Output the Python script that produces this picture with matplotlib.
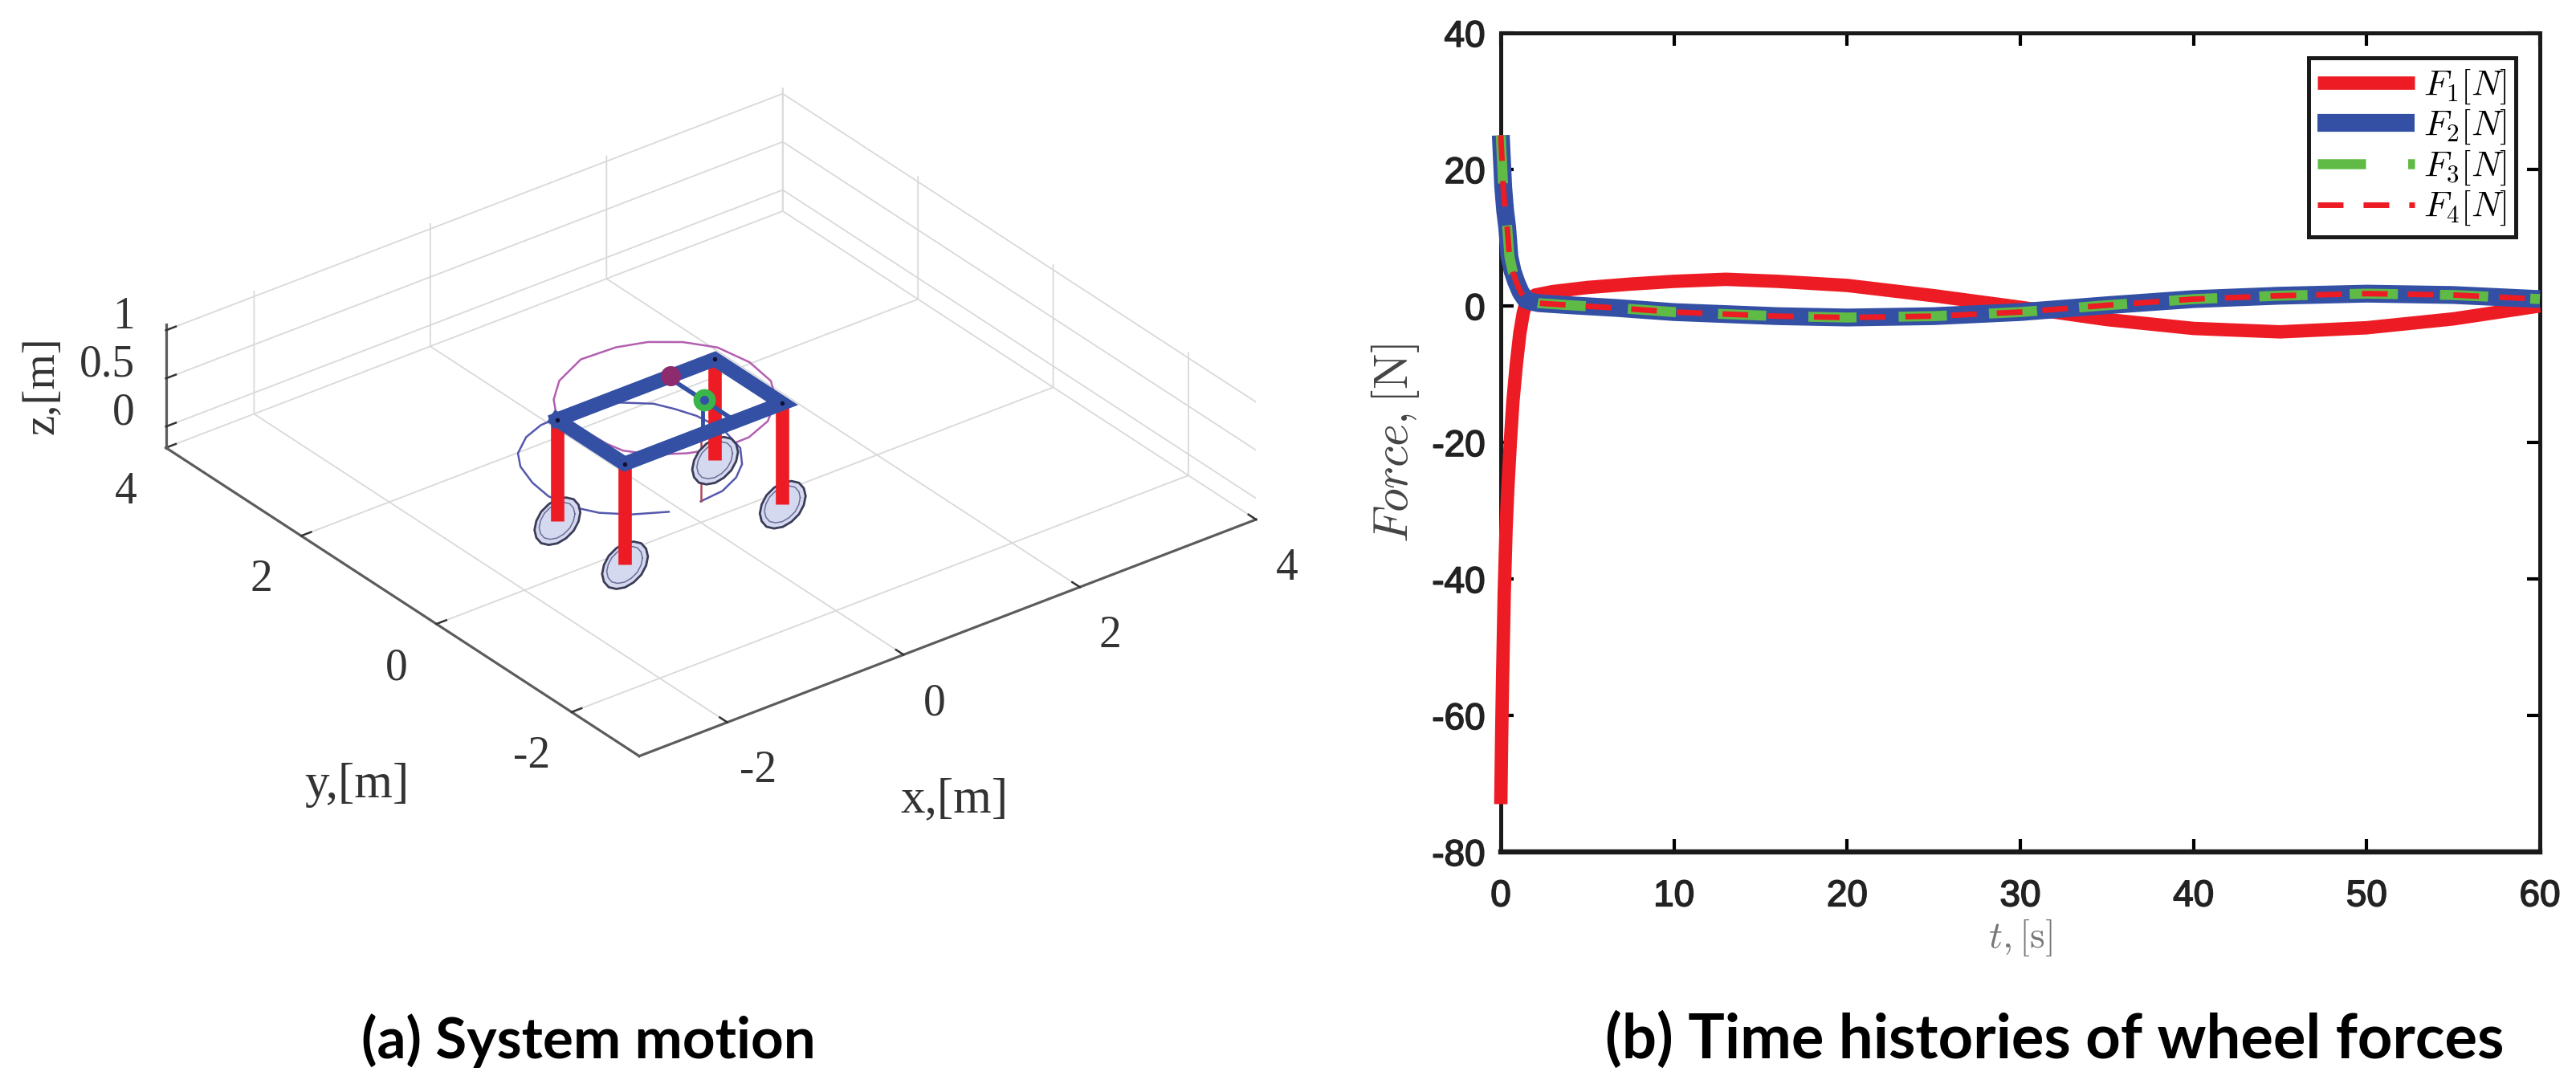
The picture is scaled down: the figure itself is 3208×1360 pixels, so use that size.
# -*- coding: utf-8 -*-
import matplotlib
matplotlib.use('Agg')
import matplotlib.pyplot as plt
import matplotlib.patheffects as pe
from mpl_toolkits.mplot3d.art3d import Poly3DCollection

W, H = 3208, 1360
plt.rcParams['mathtext.fontset'] = 'cm'
plt.rcParams['axes.unicode_minus'] = False

# ---- datos panel (a): trayectorias y robot
purple_x = [-1.186, -1.043, -0.797, -0.408, -0.026, 0.262, 0.510, 0.699, 0.766, 0.713,
            0.543, 0.250, -0.061, -0.371, -0.677, -0.941, -1.107, -1.148, -1.186]
purple_y = [0.591, 0.816, 1.054, 1.242, 1.222, 1.122, 0.930, 0.663, 0.277, -0.108,
            -0.406, -0.666, -0.792, -0.798, -0.683, -0.511, -0.292, -0.109, 0.591]
orbit_x = [-0.343, -0.640, -0.851, -0.978, -1.032, -0.998, -0.907, -0.778, -0.543, -0.305, -0.161,
           0.230, 0.462, 0.734, 0.828, 0.907, 0.950, 0.867, 0.703, 0.514, 0.270, 0.0]
orbit_y = [0.026, 0.194, 0.393, 0.625, 0.909, 1.188, 1.485, 1.690, 1.875, 1.966, 1.975,
           1.948, 1.893, 1.653, 1.460, 1.246, 0.909, 0.545, 0.305, 0.147, 0.030, 0.0]
wheel_x = [-1.24, -1.24, 0.55, 0.55]
wheel_y = [0.51, -0.49, -0.49, 0.51]
frame_order = [0, 1, 2, 3, 0]
frame_z = 1.05
cross_x = [0.02, 0.02]
cross_y = [0.51, -0.49]
wheel_u = [1, 0.92, 0.71, 0.38, 0, -0.38, -0.71, -0.92, -1, -0.92, -0.71, -0.38, 0, 0.38, 0.71, 0.92, 1]
wheel_v = [0, 0.38, 0.71, 0.92, 1, 0.92, 0.71, 0.38, 0, -0.38, -0.71, -0.92, -1, -0.92, -0.71, -0.38, 0]
xyticks = [-2, 0, 2, 4]
zticks = [0, 0.5, 1]
ztick_labels = ['0', '0.5', '1']

# ---- datos panel (b): fuerzas en las ruedas
t1 = [0, 0.05, 0.1, 0.2, 0.3, 0.4, 0.55, 0.7, 0.9, 1.1, 1.3, 1.5, 2, 3, 5, 7.5, 10, 13, 16, 20, 25, 30, 35, 40, 45, 50, 55, 60]
f1 = [-73, -63, -55, -42, -33, -27, -20, -14, -8.5, -4, -1, 0.8, 1.6, 2.1, 2.7, 3.2, 3.6, 3.9, 3.6, 3.0, 1.5, -0.2, -2, -3.3, -3.8, -3.2, -1.9, 0]
t2 = [0, 0.14, 0.25, 0.37, 0.5, 0.68, 0.88, 1.15, 1.44, 1.8, 2.2, 4, 6.7, 10, 13, 16, 20, 25, 30, 35, 40, 45, 50, 55, 60]
f2 = [25, 17.4, 14, 11.5, 7.2, 5.1, 3.6, 2, 0.9, 0.6, 0.4, 0.1, -0.3, -0.9, -1.2, -1.5, -1.7, -1.5, -0.9, 0.1, 1, 1.5, 1.8, 1.6, 1]
f3 = list(f2)
f4 = list(f2)
t_ticks = [0, 10, 20, 30, 40, 50, 60]
f_ticks = [-80, -60, -40, -20, 0, 20, 40]

RED = '#ed1c24'
BLUE = '#3450a4'
GREEN = '#5fbb46'
SERIF = 'Liberation Serif'

fig = plt.figure(figsize=(W / 100, H / 100), dpi=100, facecolor='white')

# ---- panel (a)
S = 1031
ax = fig.add_axes([356 / W, 305 / H, S / W, S / H], projection='3d', computed_zorder=False)
ax.patch.set_alpha(0)
ax.set_proj_type('ortho')
ax.view_init(elev=30, azim=-127.5)
ax.set_xlim(-3, 4, view_margin=0)
ax.set_ylim(-3, 4, view_margin=0)
ax.set_zlim(-0.22, 1.06, view_margin=0)
ax.set_box_aspect((1, 1, 0.183), zoom=1.3)
ax.set_xticks(xyticks)
ax.set_yticks(xyticks)
ax.set_zticks(zticks)
ax.set_zticklabels(ztick_labels)
for a in (ax.xaxis, ax.yaxis, ax.zaxis):
    a.set_pane_color((1, 1, 1, 0))
    a.pane.set_edgecolor('none')
    a.line.set_color('#5c5c5c')
    a.line.set_linewidth(2.3)
    a._axinfo['grid'].update(color='#d9d9d9', linewidth=1.3)
    a._axinfo['tick'].update(inward_factor=0.0, outward_factor=0.2, linewidth={True: 1.8, False: 1.0}, color='#444444')
    a.set_rotate_label(False)
ax.tick_params(labelsize=40, colors='#333333', pad=17, labelfontfamily=SERIF)
ax.tick_params(axis='z', pad=3)
ax.zaxis.set_ticks_position('upper')
# las etiquetas de z quedan por encima de su marca
for tick in ax.zaxis.get_major_ticks():
    tick.label1.set_va('baseline')
    tick.label1.set_ha('right')

ax.plot(purple_x, purple_y, [frame_z] * len(purple_x), color='#b35fb0', lw=1.8, zorder=2)
ax.plot(orbit_x, orbit_y, [0] * len(orbit_x), color='#5558ad', lw=1.8, zorder=3)
ax.plot([0, 0], [0, 0], [0, 0.7], color='#b04a5a', lw=1.8, zorder=3)
ax.plot([0.02, 0.02], [0, 0], [0.7, frame_z], color=BLUE, lw=3.5, zorder=7)

rx, rz = 0.26, 0.23
for wx, wy in zip(wheel_x, wheel_y):
    px = [wx + rx * u for u in wheel_u]
    pz = [rz * v for v in wheel_v]
    disc = Poly3DCollection([list(zip(px, [wy] * len(px), pz))], facecolor='#d5d9f0', edgecolor='#3a3c58', linewidth=2.0)
    disc.set_zorder(4)
    ax.add_collection3d(disc)
    ax.plot([wx + 0.78 * rx * u for u in wheel_u], [wy] * len(wheel_u), [0.78 * rz * v for v in wheel_v],
            color='#6a6d95', lw=1.1, zorder=4)
    ax.plot([wx, wx], [wy, wy], [0, frame_z], color=RED, lw=12, solid_capstyle='butt', zorder=5)

fx = [wheel_x[i] for i in frame_order]
fy = [wheel_y[i] for i in frame_order]
ax.plot(fx, fy, [frame_z] * 5, color=BLUE, lw=13, solid_capstyle='projecting', solid_joinstyle='miter', zorder=6)
ax.plot(fx[:4], fy[:4], [frame_z] * 4, ls='none', marker='o', ms=3, color='#111133', zorder=6)
ax.plot(cross_x, cross_y, [frame_z, frame_z], color=BLUE, lw=4, zorder=6)
ax.plot([0.05], [0.51], [frame_z], marker='o', ms=17, color='#8e2a6e', ls='none', zorder=7)
ax.plot([0.03], [-0.01], [frame_z], marker='o', ms=19, color='#39b54a', ls='none', zorder=7)
ax.plot([0.03], [-0.01], [frame_z], marker='o', ms=7, color=BLUE, ls='none', zorder=8)

fig.text(444 / W, 1 - 978 / H, 'y,[m]', fontsize=44, family=SERIF, color='#333333', ha='center', va='center')
fig.text(1189 / W, 1 - 996 / H, 'x,[m]', fontsize=44, family=SERIF, color='#333333', ha='center', va='center')
fig.text(53 / W, 1 - 480 / H, 'z,[m]', fontsize=41, family=SERIF, color='#333333', ha='center', va='center', rotation=90)

# ---- panel (b)
bx = fig.add_axes([1869 / W, 1 - 1061 / H, (3163 - 1869) / W, (1061 - 41) / H])
bx.plot(t1, f1, color=RED, lw=12, solid_capstyle='butt', clip_on=False, zorder=3, label=r'$F_1[N]$')
bx.plot(t2, f2, color=BLUE, lw=16, solid_capstyle='butt', clip_on=False, zorder=4, label=r'$F_2[N]$')
bx.plot(t2, f3, color=GREEN, lw=9, ls=(0, (4.8, 4.2)), dash_capstyle='butt', clip_on=False, zorder=5, label=r'$F_3[N]$')
bx.plot(t2, f4, color=RED, lw=5, ls=(0, (4.6, 3.6)), dash_capstyle='butt', clip_on=False, zorder=6, label=r'$F_4[N]$')
bx.set_xlim(0, 60)
bx.set_ylim(-80, 40)
bx.set_xticks(t_ticks)
bx.set_yticks(f_ticks)
bx.tick_params(direction='in', top=True, right=True, length=11.5, width=3, labelsize=33, pad=14)
bx.tick_params(axis='x', pad=24)
for lab in bx.get_xticklabels() + bx.get_yticklabels():
    lab.set_family('Liberation Sans')
    lab.set_color('#222222')
    lab.set_path_effects([pe.withStroke(linewidth=1.2, foreground='#222222')])
for s in bx.spines.values():
    s.set_linewidth(3.6)
    s.set_color('#1a1a1a')
bx.spines['bottom'].set_linewidth(4.6)
leg = bx.legend(loc='upper left', bbox_to_anchor=(0.7774, 0.9696), borderaxespad=0, fontsize=32, fancybox=False,
                framealpha=1, edgecolor='#1a1a1a', handlelength=2.72, handletextpad=0.25, labelspacing=0.05, borderpad=0.25)
leg.get_frame().set_linewidth(3.6)
leg.set_zorder(10)
fig.text(1738 / W, 1 - 552 / H, r'$Force,[\mathrm{N}]$', fontsize=43, color='#444444', rotation=90, ha='center', va='center')
fig.text(2516 / W, 1 - 1168 / H, r'$t,[\mathrm{s}]$', fontsize=34, color='#777777', ha='center', va='center')

# ---- títulos
fig.text(450 / W, 1 - 1318 / H, '(a) System motion', fontsize=51, fontweight='bold', family='Lato', ha='left', va='baseline')
fig.text(1999 / W, 1 - 1318 / H, '(b) Time histories of wheel forces', fontsize=54.7, fontweight='bold', family='Lato', ha='left', va='baseline')

fig.savefig('out.png', dpi=100)
